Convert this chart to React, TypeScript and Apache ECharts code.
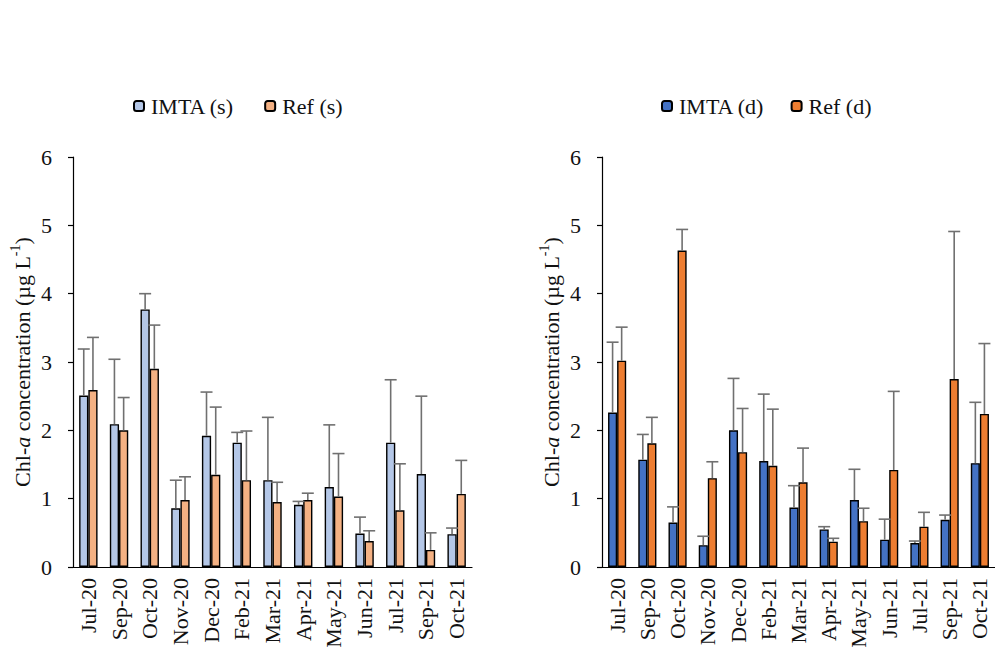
import React, { useEffect, useRef } from "react";
import * as echarts from "echarts";

const categories = ["Jul-20", "Sep-20", "Oct-20", "Nov-20", "Dec-20", "Feb-21", "Mar-21", "Apr-21", "May-21", "Jun-21", "Jul-21", "Sep-21", "Oct-21"];

const imtaS = [2.51, 2.09, 3.77, 0.86, 1.92, 1.82, 1.27, 0.91, 1.17, 0.49, 1.82, 1.36, 0.48];
const imtaSSd = [0.68, 0.95, 0.23, 0.41, 0.64, 0.15, 0.92, 0.05, 0.91, 0.24, 0.92, 1.14, 0.09];
const refS = [2.59, 2.0, 2.9, 0.98, 1.35, 1.27, 0.95, 0.98, 1.03, 0.38, 0.83, 0.25, 1.07];
const refSSd = [0.77, 0.48, 0.64, 0.34, 0.99, 0.72, 0.29, 0.1, 0.63, 0.15, 0.68, 0.25, 0.49];

const imtaD = [2.26, 1.57, 0.65, 0.32, 2.0, 1.55, 0.87, 0.55, 0.98, 0.4, 0.35, 0.69, 1.52];
const imtaDSd = [1.03, 0.37, 0.23, 0.13, 0.76, 0.98, 0.32, 0.04, 0.45, 0.3, 0.03, 0.07, 0.89];
const refD = [3.02, 1.81, 4.63, 1.3, 1.68, 1.48, 1.24, 0.37, 0.67, 1.42, 0.59, 2.75, 2.24];
const refDSd = [0.49, 0.38, 0.31, 0.24, 0.64, 0.83, 0.5, 0.05, 0.19, 1.15, 0.21, 2.16, 1.03];

const yTicks = [0, 1, 2, 3, 4, 5, 6];

const FONT = "Liberation Serif";
const TXT = "#111";
const FS = 22;

function errRender(sign: number) {
  return (params: any, api: any) => {
    const i = api.value(0);
    const v = api.value(1);
    const sd = api.value(2);
    const band = api.size([1, 0])[0];
    const x = api.coord([i, v])[0] + sign * band * 0.15;
    const y0 = api.coord([i, v])[1];
    const y1 = api.coord([i, v + sd])[1];
    const style = { stroke: "#707070", lineWidth: 1.6 };
    return {
      type: "group",
      children: [
        { type: "line", shape: { x1: x, y1: y0, x2: x, y2: y1 }, style },
        { type: "line", shape: { x1: x - 6, y1: y1, x2: x + 6, y2: y1 }, style },
      ],
    };
  };
}

function xAxis(gi: number) {
  return {
    type: "category",
    gridIndex: gi,
    data: categories,
    axisLine: { lineStyle: { color: "#000", width: 1.2 } },
    axisTick: { length: 6, lineStyle: { color: "#000", width: 1.2 } },
    axisLabel: { rotate: 90, interval: 0, margin: 11, fontFamily: FONT, fontSize: FS, color: TXT },
  };
}

function yAxis(gi: number) {
  return {
    type: "value",
    gridIndex: gi,
    min: yTicks[0],
    max: yTicks[yTicks.length - 1],
    interval: 1,
    splitLine: { show: false },
    axisLine: { show: true, lineStyle: { color: "#000", width: 1.2 } },
    axisTick: { show: true, length: 5, lineStyle: { color: "#000", width: 1.2 } },
    axisLabel: { margin: 21, fontFamily: FONT, fontSize: FS, color: TXT },
    name: "{n|Chl-}{i|a}{n| concentration (µg L}{s|-1}{n|)}",
    nameLocation: "middle",
    nameRotate: 90,
    nameGap: 40,
    nameTextStyle: {
      fontFamily: FONT,
      fontSize: FS,
      color: TXT,
      rich: {
        n: { fontFamily: FONT, fontSize: FS, color: TXT, lineHeight: 25, verticalAlign: "bottom" },
        i: { fontFamily: FONT, fontSize: FS, color: TXT, fontStyle: "italic", lineHeight: 25, verticalAlign: "bottom" },
        s: { fontFamily: FONT, fontSize: 14, color: TXT, lineHeight: 25, verticalAlign: "top" },
      },
    },
  };
}

function bar(name: string, gi: number, data: number[], color: string) {
  return {
    name,
    type: "bar",
    xAxisIndex: gi,
    yAxisIndex: gi,
    data,
    barGap: "0%",
    barCategoryGap: "40%",
    itemStyle: { color, borderColor: "#000", borderWidth: 1.4 },
    z: 2,
  };
}

function err(gi: number, vals: number[], sds: number[], sign: number) {
  return {
    type: "custom",
    xAxisIndex: gi,
    yAxisIndex: gi,
    renderItem: errRender(sign),
    encode: { x: 0, y: 1 },
    data: vals.map((v, i) => [i, v, sds[i]]),
    z: 5,
    silent: true,
  };
}

export default function App() {
  const ref = useRef<HTMLDivElement>(null);
  useEffect(() => {
    if (!ref.current) return;
    const chart = echarts.init(ref.current, undefined, { renderer: "svg" });
    const legendText = { fontFamily: FONT, fontSize: FS, color: TXT, padding: [0, 0, 0, 2] };
    chart.setOption({
      animation: false,
      backgroundColor: "#fff",
      grid: [
        { left: 73, top: 157, width: 399, height: 410 },
        { left: 602, top: 157, width: 399, height: 410 },
      ],
      legend: [
        {
          data: ["IMTA (s)", "Ref (s)"],
          left: 133,
          top: 95,
          padding: 0,
          itemWidth: 10,
          itemHeight: 10,
          itemGap: 30,
          textStyle: legendText,
        },
        {
          data: ["IMTA (d)", "Ref (d)"],
          left: 661,
          top: 95,
          padding: 0,
          itemWidth: 10,
          itemHeight: 10,
          itemGap: 26,
          textStyle: legendText,
        },
      ],
      xAxis: [xAxis(0), xAxis(1)],
      yAxis: [yAxis(0), yAxis(1)],
      series: [
        bar("IMTA (s)", 0, imtaS, "#b4c7e7"),
        bar("Ref (s)", 0, refS, "#f4b183"),
        bar("IMTA (d)", 1, imtaD, "#4472c4"),
        bar("Ref (d)", 1, refD, "#ed7d31"),
        err(0, imtaS, imtaSSd, -1),
        err(0, refS, refSSd, 1),
        err(1, imtaD, imtaDSd, -1),
        err(1, refD, refDSd, 1),
      ],
    });
    return () => chart.dispose();
  }, []);
  return (
    <div
      ref={ref}
      style={{ position: "absolute", left: 0, top: 0, width: 995, height: 657, background: "#fff" }}
    />
  );
}
